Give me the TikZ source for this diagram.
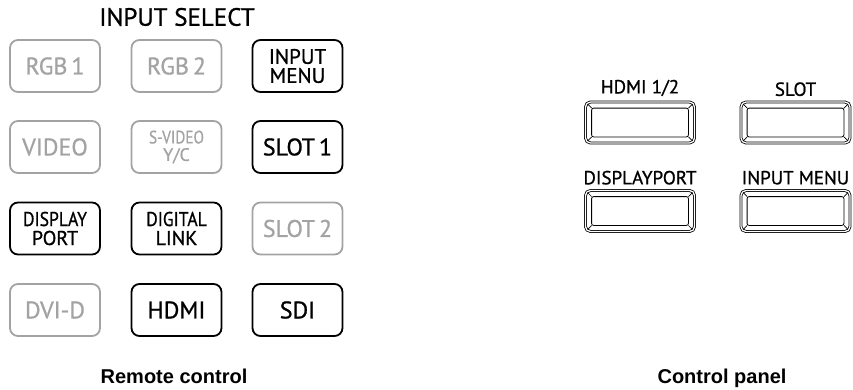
\documentclass[tikz,border=0pt]{standalone}
\usepackage{fontspec}
\setmainfont{PT Sans}
\newfontfamily\labfont[FakeBold=0.9]{PT Sans}
\newfontfamily\capfont{Liberation Sans}
\definecolor{offgray}{RGB}{163,163,163}
\begin{document}
\begin{tikzpicture}[x=1pt,y=-1pt,
  rbtn/.style={draw, rounded corners=8pt, minimum width=90pt, minimum height=52pt,
    line width=1.8pt, align=center, inner sep=0pt, font=\labfont\fontsize{24}{24}\selectfont},
  onbtn/.style={rbtn, draw=black, text=black},
  offbtn/.style={rbtn, draw=offgray, text=offgray},
  twoline/.style={font=\labfont\fontsize{21}{19}\selectfont},
  condline/.style={font=\labfont\fontsize{20}{19}\selectfont},
  pbtn/.style={draw, double, double distance=1.3pt, line width=0.8pt, rounded corners=5pt,
    minimum width=109pt, minimum height=41pt, inner sep=0pt},
  plab/.style={font=\labfont\fontsize{19}{19}\selectfont},
  captxt/.style={font=\capfont\bfseries\fontsize{20}{20}\selectfont, anchor=base}]
\useasboundingbox (0,0) rectangle (853,389);
% title
\node[font=\labfont\fontsize{25}{25}\selectfont] (title) at (177,17) {INPUT SELECT};
% remote buttons
\node[offbtn] (rgb1) at (55,66) {RGB\,1};
\node[offbtn] (rgb2) at (176.5,66) {RGB\,2};
\node[onbtn,twoline] (inmenu) at (297.5,66) {INPUT\\MENU};
\node[offbtn] (video) at (55,147) {VIDEO};
\node[offbtn,font=\labfont\fontsize{18}{17.5}\selectfont] (svideo) at (176.5,147) {\scalebox{0.85}[1]{S-VIDEO}\\Y/C};
\node[onbtn] (slot1) at (297.5,147) {SLOT\,1};
\node[onbtn,condline] (dport) at (55,228.5) {\scalebox{0.88}[1]{DISPLAY}\\PORT};
\node[onbtn,condline] (dlink) at (176.5,228.5) {\scalebox{0.88}[1]{DIGITAL}\\LINK};
\node[offbtn] (slot2) at (297.5,228.5) {SLOT\,2};
\node[offbtn] (dvid) at (55,310) {DVI-D};
\node[onbtn] (hdmi) at (176.5,310) {HDMI};
\node[onbtn] (sdi) at (297.5,310) {SDI};
\node[captxt] (rc) at (174,383) {Remote control};
% control panel
\node[pbtn] (p1) at (640,122.5) {};
\node[pbtn] (p2) at (795.5,122.5) {};
\node[pbtn] (p3) at (640,211) {};
\node[pbtn] (p4) at (795.5,211) {};
\foreach \n in {p1,p2,p3,p4}{
  \draw[line width=0.8pt, rounded corners=2pt]
    ([shift={(6.5pt,-6.5pt)}]\n.north west) rectangle ([shift={(-6.5pt,6.5pt)}]\n.south east);
  \draw[line width=0.7pt] ([shift={(2.5pt,-2.5pt)}]\n.north west) -- ([shift={(6.5pt,-6.5pt)}]\n.north west);
  \draw[line width=0.7pt] ([shift={(-2.5pt,-2.5pt)}]\n.north east) -- ([shift={(-6.5pt,-6.5pt)}]\n.north east);
  \draw[line width=0.7pt] ([shift={(2.5pt,2.5pt)}]\n.south west) -- ([shift={(6.5pt,6.5pt)}]\n.south west);
  \draw[line width=0.7pt] ([shift={(-2.5pt,2.5pt)}]\n.south east) -- ([shift={(-6.5pt,6.5pt)}]\n.south east);
}
\node[plab,anchor=south] (l1) at ([yshift=2pt]p1.north) {HDMI 1/2};
\node[plab,anchor=south] (l2) at ([yshift=2pt]p2.north) {SLOT};
\node[plab,anchor=south] (l3) at ([yshift=2pt]p3.north) {DISPLAYPORT};
\node[plab,anchor=south] (l4) at ([yshift=2pt]p4.north) {INPUT MENU};
\node[captxt] (cp) at (722,383) {Control panel};
\end{tikzpicture}
\end{document}
